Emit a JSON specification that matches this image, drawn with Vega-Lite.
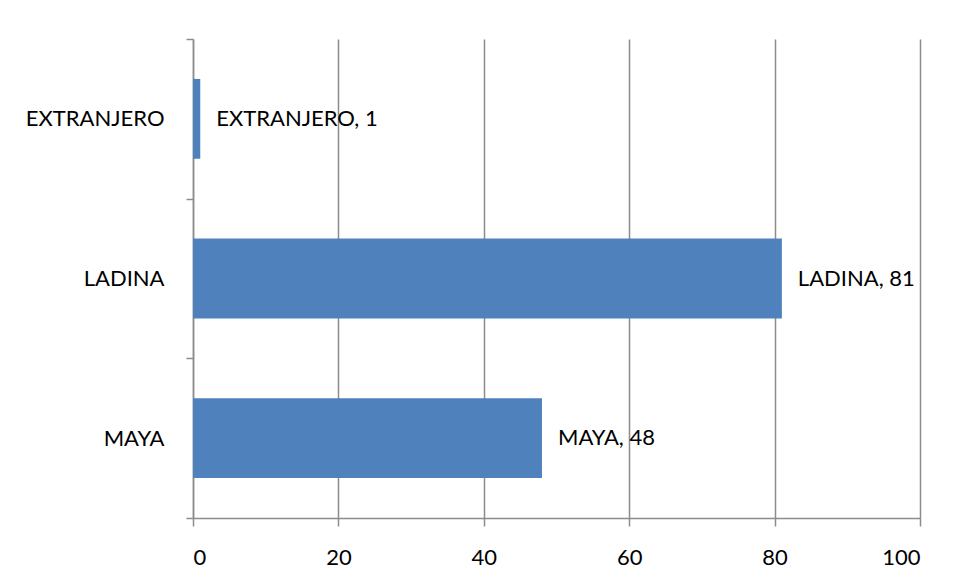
{
  "$schema": "https://vega.github.io/schema/vega-lite/v6.json",
  "width": 727,
  "height": 479,
  "autosize": {"type": "none"},
  "padding": {"left": 193, "top": 39, "right": 37, "bottom": 61},
  "background": "white",
  "config": {
    "view": {"stroke": null},
    "font": "Lato"
  },
  "data": {
    "values": [
      {"grupo": "EXTRANJERO", "valor": 1},
      {"grupo": "LADINA", "valor": 81},
      {"grupo": "MAYA", "valor": 48}
    ]
  },
  "encoding": {
    "y": {
      "field": "grupo",
      "type": "nominal",
      "sort": ["EXTRANJERO", "LADINA", "MAYA"],
      "scale": {"paddingInner": 0, "paddingOuter": 0},
      "axis": {
        "title": null,
        "tickBand": "extent",
        "tickSize": 7,
        "tickColor": "#8c8c8c",
        "tickWidth": 1.5,
        "domainColor": "#8c8c8c",
        "domainWidth": 1.5,
        "labelFontSize": 22,
        "labelColor": "#000000",
        "labelPadding": 22,
        "labelFont": "Lato",
        "grid": false
      }
    },
    "x": {
      "field": "valor",
      "type": "quantitative",
      "scale": {"domain": [0, 100], "nice": false},
      "axis": {
        "title": null,
        "values": [0, 20, 40, 60, 80, 100],
        "tickSize": 8,
        "tickColor": "#8c8c8c",
        "tickWidth": 1.5,
        "domainColor": "#8c8c8c",
        "domainWidth": 1.5,
        "grid": true,
        "gridColor": "#8c8c8c",
        "gridWidth": 1.5,
        "labelFontSize": 22,
        "labelColor": "#000000",
        "labelPadding": 21,
        "labelFont": "Lato"
      }
    }
  },
  "layer": [
    {
      "mark": {"type": "bar", "color": "#4f81bd", "height": {"band": 0.5}}
    },
    {
      "transform": [{"calculate": "datum.grupo + ', ' + datum.valor", "as": "etiqueta"}],
      "mark": {"type": "text", "align": "left", "dx": 16, "fontSize": 22, "color": "#000000", "font": "Lato"},
      "encoding": {"text": {"field": "etiqueta"}}
    }
  ]
}
